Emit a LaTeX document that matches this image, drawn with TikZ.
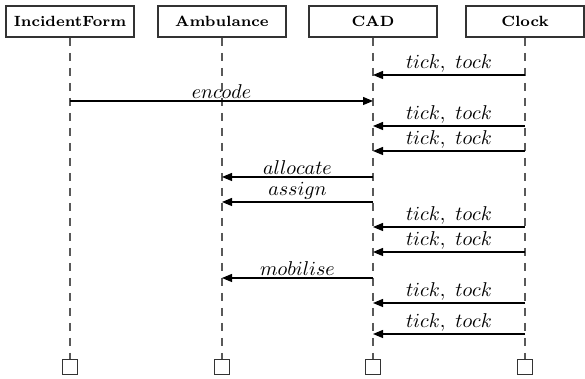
\documentclass[tikz,border=0pt]{standalone}
\usepackage{amsmath, amssymb}
\usepackage{tikz}
\usetikzlibrary{calc, arrows.meta, positioning}
\definecolor{lifeGray}{gray}{0.35}
\definecolor{boxGray}{gray}{0.2}

\begin{document}
\begin{tikzpicture}[x=0.5pt, y=-0.5pt, >={Triangle[length=5pt, width=4pt]},
    thread/.style={draw=boxGray, thick, minimum height=15.5pt, minimum width=64pt, font=\fontsize{7.4}{9}\selectfont\bfseries},
    stop/.style={draw=boxGray, thick, minimum size=7.5pt, inner sep=0pt},
    life/.style={semithick, dash pattern=on 4pt off 3.5pt, lifeGray},
    msg/.style={->, semithick},
    lbl/.style={midway, above, inner sep=1pt}]
    \useasboundingbox (0, 0) rectangle (585, 379);

    % threads
    \node[thread] (IF) at (70, 21.5) {IncidentForm};
    \node[thread] (Amb) at (222, 21.5) {Ambulance};
    \node[thread] (CAD) at (373, 21.5) {CAD};
    \node[thread, minimum width=59pt] (Clk) at (525, 21.5) {Clock};

    \node[stop] (IFe) at (70, 367) {};
    \node[stop] (Ambe) at (222, 367) {};
    \node[stop] (CADe) at (373, 367) {};
    \node[stop] (Clke) at (525, 367) {};

    \draw[life] (IF) -- (IFe);
    \draw[life] (Amb) -- (Ambe);
    \draw[life] (CAD) -- (CADe);
    \draw[life] (Clk) -- (Clke);

    % messages
    \draw[msg] (Clk |- 0, 75) -- (CAD |- 0, 75) node[lbl] {$tick,\ tock$};
    \draw[msg] (IF |- 0, 101) -- (CAD |- 0, 101) node[lbl] {$encode$};
    \draw[msg] (Clk |- 0, 126) -- (CAD |- 0, 126) node[lbl] {$tick,\ tock$};
    \draw[msg] (Clk |- 0, 151) -- (CAD |- 0, 151) node[lbl] {$tick,\ tock$};
    \draw[msg] (CAD |- 0, 177) -- (Amb |- 0, 177) node[lbl] {$allocate$};
    \draw[msg] (CAD |- 0, 202) -- (Amb |- 0, 202) node[lbl] {$assign$};
    \draw[msg] (Clk |- 0, 227) -- (CAD |- 0, 227) node[lbl] {$tick,\ tock$};
    \draw[msg] (Clk |- 0, 252) -- (CAD |- 0, 252) node[lbl] {$tick,\ tock$};
    \draw[msg] (CAD |- 0, 278) -- (Amb |- 0, 278) node[lbl] {$mobilise$};
    \draw[msg] (Clk |- 0, 303) -- (CAD |- 0, 303) node[lbl] {$tick,\ tock$};
    \draw[msg] (Clk |- 0, 334) -- (CAD |- 0, 334) node[lbl] {$tick,\ tock$};
\end{tikzpicture}
\end{document}
